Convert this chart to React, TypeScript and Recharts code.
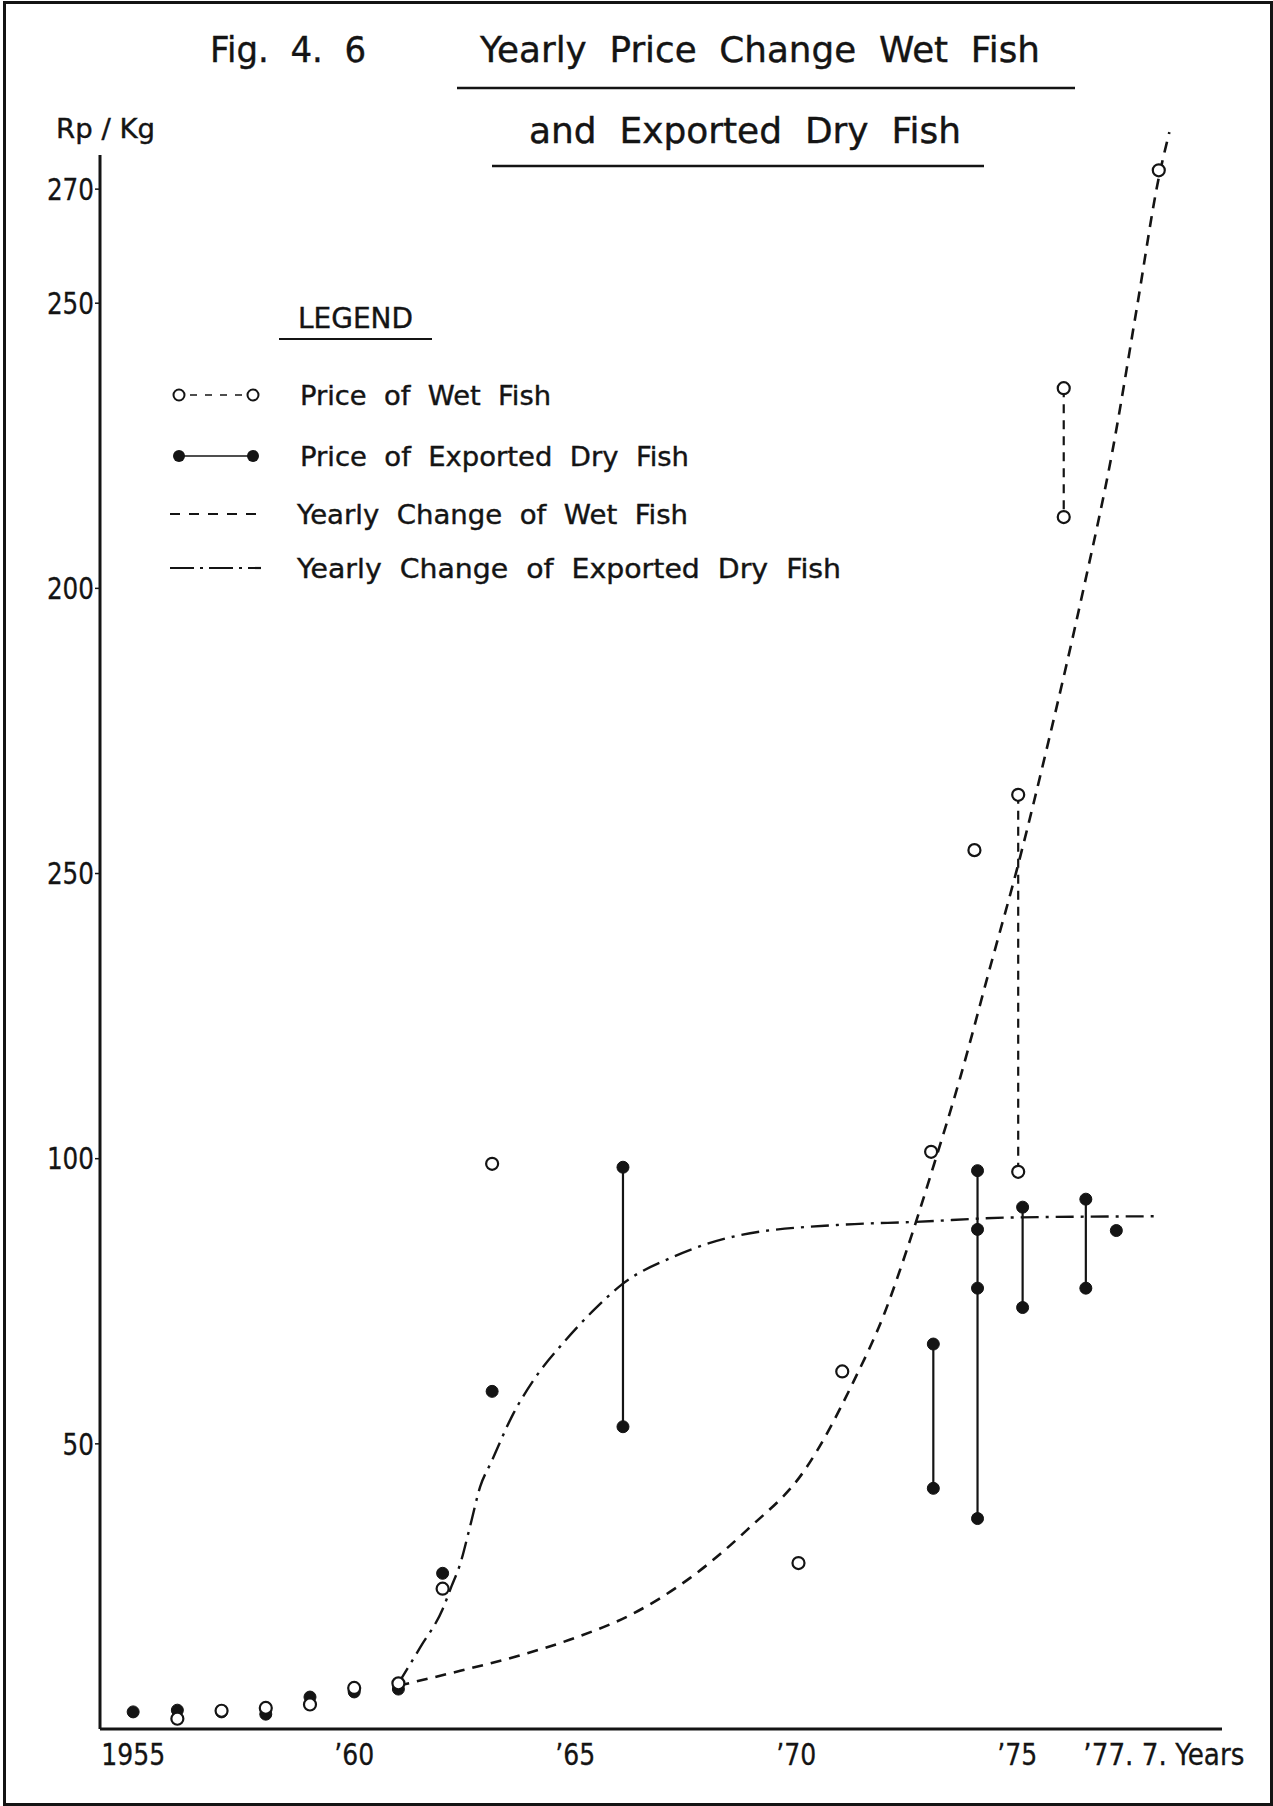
import { ComposedChart, Line, Scatter, XAxis, YAxis, ReferenceLine } from 'recharts';

const INK = '#141414';
const FONT = '"DejaVu Sans", "Noto Sans", sans-serif';

// axes
const yTicks = [50, 100, 150, 200, 250, 270];
const yTickLabels = ['50', '100', '250', '200', '250', '270'];
const xTicks = [1955, 1960, 1965, 1970, 1975, 1977.58];
const xTickLabels = ['1955', '’60', '’65', '’70', '’75', '’77. 7. Years'];
const xDomain = [1954.25, 1979.63];
const yAxisTop = 276;

// Price of wet fish (open circles)
const wetYears = [1956, 1957, 1958, 1959, 1960, 1961, 1962, 1963.12, 1970.05, 1971.04, 1973.05, 1974.03, 1978.2];
const wetPrices = [1.8, 3.2, 3.7, 4.3, 7.2, 8.0, 24.6, 99.1, 29.1, 62.7, 101.2, 154.1, 273.3];
// wet fish years with a high / low reading
const wetRangeYears = [1975.02, 1976.05];
const wetRangePrices = [[163.8, 97.7], [235.1, 212.5]];

// Price of exported dry fish (filled circles)
const dryYears = [1955, 1956, 1957, 1958, 1959, 1960, 1961, 1962, 1963.12, 1977.24];
const dryPrices = [3.0, 3.3, 3.0, 2.6, 5.6, 6.5, 7.0, 27.3, 59.2, 87.4];
const dryRangeYears = [1966.08, 1973.1, 1974.1, 1975.12, 1976.55];
const dryRangePrices = [[98.5, 53.0], [67.5, 42.2], [97.9, 87.6, 77.3, 36.9], [91.5, 73.9], [92.9, 77.3]];

// hand drawn trend curves
const wetTrendYears = [1961, 1962.4, 1963.7, 1965, 1966.3, 1967.6, 1968.9, 1970.2, 1971.3, 1972, 1972.5, 1973.1, 1973.7, 1974.4, 1975, 1975.7, 1976.5, 1977.15, 1977.7, 1978.2, 1978.44];
const wetTrendValues = [7.6, 10.2, 12.8, 16.0, 20.2, 26.5, 35.0, 45.5, 61, 73, 84, 98.6, 114, 134, 151, 173, 200, 224, 249, 272, 280];
const dryTrendYears = [1961, 1961.5, 1962, 1962.2, 1962.4, 1962.62, 1962.85, 1963.1, 1963.6, 1964.06, 1964.74, 1965.4, 1966.08, 1967.22, 1968.73, 1970.99, 1972.65, 1974.94, 1978.17];
const dryTrendValues = [8, 14.4, 21.0, 25, 29, 35.5, 42.5, 46.8, 55.3, 61.2, 67.8, 73.3, 78.1, 82.8, 86.6, 88.4, 88.9, 89.7, 89.9];

const pts = (xs: number[], ys: number[]) => xs.map((x, i) => ({ x, y: ys[i] }));

const OpenDot = (p: any) => (
  <circle cx={p.cx} cy={p.cy} r={6} fill="#fff" stroke={INK} strokeWidth={2.2} />
);
const FilledDot = (p: any) => (
  <circle cx={p.cx} cy={p.cy} r={6} fill={INK} stroke={INK} strokeWidth={1} />
);

const YTick = ({ x, y, payload }: any) => {
  const label = yTickLabels[yTicks.indexOf(payload.value)] ?? '';
  return (
    <text x={x} y={y} dy="0.36em" textAnchor="end" fontSize={30} fontFamily={FONT} fill={INK}
      stroke={INK} strokeWidth={0.3} textLength={label.length * 15.7} lengthAdjust="spacingAndGlyphs">{label}</text>
  );
};

const XTick = ({ x, y, payload }: any) => {
  const i = xTicks.indexOf(payload.value);
  const label = xTickLabels[i] ?? '';
  const last = i === xTicks.length - 1;
  const len = last ? 161 : label.length === 4 ? 64 : 40;
  return (
    <text x={last ? x - 48 : x} y={y} dy="0.72em" textAnchor={last ? 'start' : 'middle'} fontSize={30}
      fontFamily={FONT} fill={INK} stroke={INK} strokeWidth={0.3} textLength={len}
      lengthAdjust="spacingAndGlyphs">{label}</text>
  );
};

function Overlay() {
  const t = (x: number, y: number, s: string, len: number, size: number) => (
    <text x={x} y={y} fontSize={size} fontFamily={FONT} fill={INK} stroke={INK} strokeWidth={0.4}
      textLength={len} lengthAdjust="spacingAndGlyphs" style={{ whiteSpace: 'pre' }}>{s}</text>
  );
  return (
    <svg width={1273} height={1806} style={{ position: 'absolute', left: 0, top: 0, pointerEvents: 'none' }}>
      {t(210, 62, 'Fig.  4.  6', 156, 36)}
      {t(480, 62, 'Yearly  Price  Change  Wet  Fish', 560, 36)}
      <line x1={457} y1={88} x2={1075} y2={88} stroke={INK} strokeWidth={2.5} />
      {t(529, 143, 'and  Exported  Dry  Fish', 432, 36)}
      <line x1={492} y1={166} x2={984} y2={166} stroke={INK} strokeWidth={2.5} />
      {t(56, 138, 'Rp / Kg', 99, 27)}

      {t(298, 328, 'LEGEND', 115, 28)}
      <line x1={279} y1={339} x2={432} y2={339} stroke={INK} strokeWidth={2} />

      <line x1={186} y1={395} x2={246} y2={395} stroke={INK} strokeWidth={1.5} strokeDasharray="7 8" strokeDashoffset={-4} />
      <circle cx={179} cy={395} r={5.5} fill="#fff" stroke={INK} strokeWidth={2} />
      <circle cx={253} cy={395} r={5.5} fill="#fff" stroke={INK} strokeWidth={2} />
      {t(300, 405, 'Price  of  Wet  Fish', 251, 27)}

      <line x1={179} y1={456} x2={253} y2={456} stroke={INK} strokeWidth={1.5} />
      <circle cx={179} cy={456} r={6} fill={INK} />
      <circle cx={253} cy={456} r={6} fill={INK} />
      {t(300, 466, 'Price  of  Exported  Dry  Fish', 389, 27)}

      <line x1={170} y1={514} x2={261} y2={514} stroke={INK} strokeWidth={2.2} strokeDasharray="10 9" />
      {t(297, 524, 'Yearly  Change  of  Wet  Fish', 391, 27)}

      <line x1={170} y1={568} x2={261} y2={568} stroke={INK} strokeWidth={2.2} strokeDasharray="24 6 3 6" />
      {t(297, 578, 'Yearly  Change  of  Exported  Dry  Fish', 544, 27)}
    </svg>
  );
}

export default function App() {
  return (
    <div style={{ position: 'absolute', left: 0, top: 0, width: 1273, height: 1806, background: '#fff', overflow: 'hidden' }}>
      <div style={{ position: 'absolute', left: 3, top: 1, width: 1264, height: 1799, border: `3px solid ${INK}` }} />
      <ComposedChart width={1273} height={1806} margin={{ top: 115, right: 51, bottom: 37, left: 40 }}>
        <XAxis
          type="number"
          dataKey="x"
          domain={xDomain}
          ticks={xTicks}
          interval={0}
          tick={<XTick />}
          tickLine={false}
          tickSize={0}
          tickMargin={14}
          height={40}
          axisLine={{ stroke: INK, strokeWidth: 3 }}
        />
        <YAxis
          type="number"
          dataKey="y"
          domain={[0, 283]}
          ticks={yTicks}
          interval={0}
          tick={<YTick />}
          tickLine={{ stroke: INK, strokeWidth: 1.5 }}
          tickSize={5}
          tickMargin={1}
          width={60}
          axisLine={false}
        />
        <ReferenceLine segment={[{ x: xDomain[0], y: 0 }, { x: xDomain[0], y: yAxisTop }]} stroke={INK} strokeWidth={3} />
        <Line data={pts(wetTrendYears, wetTrendValues)} dataKey="y" type="monotone" stroke={INK} strokeWidth={2.6}
          strokeDasharray="11 8" dot={false} activeDot={false} isAnimationActive={false} />
        <Line data={pts(dryTrendYears, dryTrendValues)} dataKey="y" type="monotone" stroke={INK} strokeWidth={2.4}
          strokeDasharray="18 7 3 7" dot={false} activeDot={false} isAnimationActive={false} />
        {dryRangeYears.map((yr, i) => (
          <Scatter key={'dr' + i} data={dryRangePrices[i].map(v => ({ x: yr, y: v }))} fill={INK}
            line={{ stroke: INK, strokeWidth: 2.2 }} shape={FilledDot} isAnimationActive={false} />
        ))}
        {wetRangeYears.map((yr, i) => (
          <Scatter key={'wr' + i} data={wetRangePrices[i].map(v => ({ x: yr, y: v }))} fill={INK}
            line={{ stroke: INK, strokeWidth: 2.2, strokeDasharray: '9 7' }} shape={OpenDot} isAnimationActive={false} />
        ))}
        <Scatter data={pts(dryYears, dryPrices)} fill={INK} shape={FilledDot} isAnimationActive={false} />
        <Scatter data={pts(wetYears, wetPrices)} fill={INK} shape={OpenDot} isAnimationActive={false} />
      </ComposedChart>
      <Overlay />
    </div>
  );
}
